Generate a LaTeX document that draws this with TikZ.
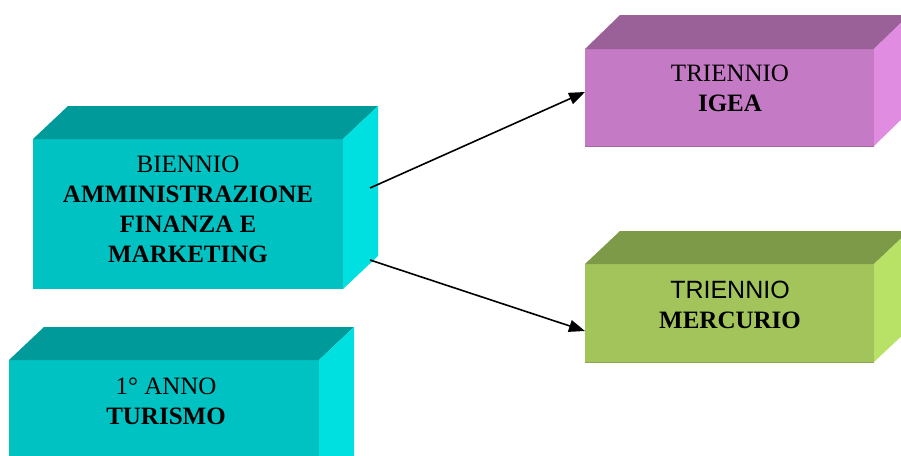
\documentclass[tikz,border=0pt]{standalone}
\usepackage{fontspec}
\setmainfont{Liberation Serif}
\newfontfamily\arialfont{Liberation Sans}
\usetikzlibrary{arrows.meta}
\definecolor{tealF}{HTML}{00C2C2}
\definecolor{tealT}{HTML}{009A9A}
\definecolor{tealR}{HTML}{00E0E0}
\definecolor{purF}{HTML}{C47AC4}
\definecolor{purT}{HTML}{9A6098}
\definecolor{purR}{HTML}{E08CE0}
\definecolor{grnF}{HTML}{A2C45A}
\definecolor{grnT}{HTML}{7C9A48}
\definecolor{grnR}{HTML}{B8E265}
\tikzset{
  face/.style={draw=none, inner sep=0pt, outer sep=0pt},
  lbl/.style={align=center, font=\fontsize{25}{30}\selectfont, inner sep=0pt},
  conn/.style={line width=1.6pt, -{Triangle[length=16pt,width=12pt]}},
}
\begin{document}
\begin{tikzpicture}[x=1pt,y=-1pt]
\useasboundingbox (0,0) rectangle (901,455);
% BIENNIO box
\node[face, fill=tealF, minimum width=310pt, minimum height=150pt] (bien) at (188,214) {};
\fill[tealT] (bien.north west) -- ++(35,-33) -- ++(310,0) -- (bien.north east) -- cycle;
\fill[tealR] (bien.north east) -- ++(35,-33) -- ++(0,150) -- (bien.south east) -- cycle;
\node[lbl] (bienT) at (188,209) {BIENNIO\\\textbf{AMMINISTRAZIONE}\\\textbf{FINANZA E}\\\textbf{MARKETING}};
% TURISMO box
\node[face, fill=tealF, minimum width=310pt, minimum height=150pt] (tur) at (164,435) {};
\fill[tealT] (tur.north west) -- ++(35,-33) -- ++(310,0) -- (tur.north east) -- cycle;
\fill[tealR] (tur.north east) -- ++(35,-33) -- ++(0,150) -- (tur.south east) -- cycle;
\node[lbl] (turT) at (166,401) {1° ANNO\\\textbf{TURISMO}};
% IGEA box
\node[face, fill=purF, minimum width=289pt, minimum height=97pt] (igea) at (729.5,97.5) {};
\fill[purT] (igea.north west) -- ++(35,-34) -- ++(289,0) -- (igea.north east) -- cycle;
\fill[purR] (igea.north east) -- ++(35,-34) -- ++(0,97) -- (igea.south east) -- cycle;
\draw[purF!85!black, line width=0.8pt] (igea.south west) -- (igea.south east);
\node[lbl] (igeaT) at (730,88.5) {TRIENNIO\\\textbf{IGEA}};
% MERCURIO box
\node[face, fill=grnF, minimum width=289pt, minimum height=98pt] (merc) at (729.5,313) {};
\fill[grnT] (merc.north west) -- ++(35,-33) -- ++(289,0) -- (merc.north east) -- cycle;
\fill[grnR] (merc.north east) -- ++(35,-33) -- ++(0,98) -- (merc.south east) -- cycle;
\draw[grnF!85!black, line width=0.8pt] (merc.south west) -- (merc.south east);
\node[lbl] (mercT) at (730,305) {{\arialfont TRIENNIO}\\\textbf{MERCURIO}};
% connectors
\coordinate (s1) at (370,188);
\coordinate (s2) at (370,260);
\coordinate (e1) at (igea.west |- 0,92);
\coordinate (e2) at (merc.west |- 0,331);
\draw[conn] (s1) -- (e1);
\draw[conn] (s2) -- (e2);
\end{tikzpicture}
\end{document}
